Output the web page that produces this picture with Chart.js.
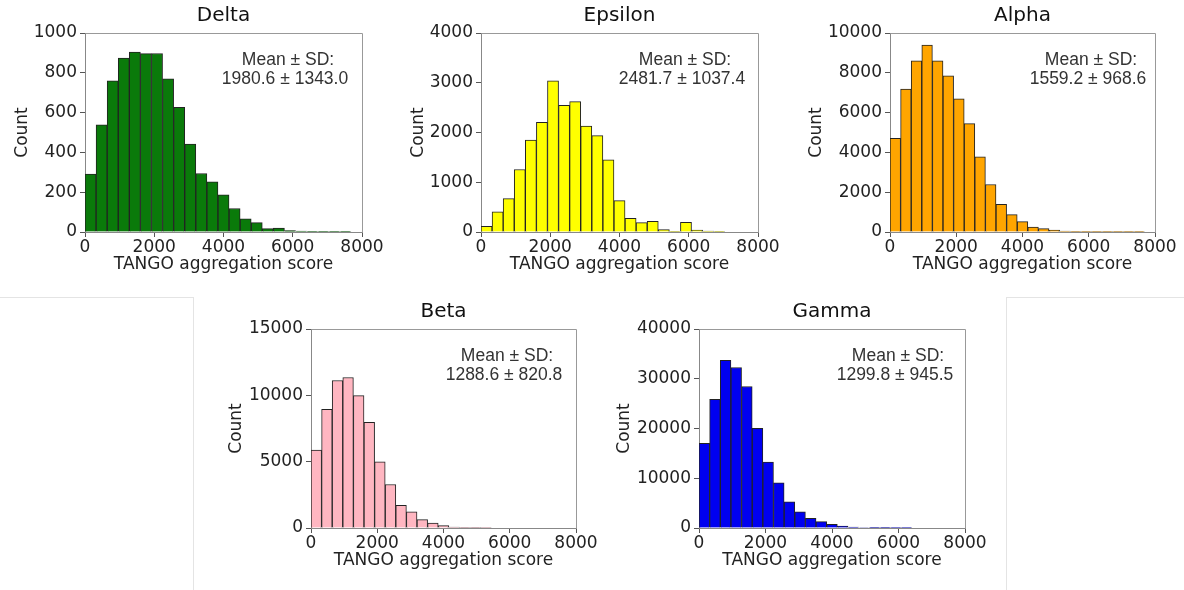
<!DOCTYPE html>
<html>
<head>
<meta charset="utf-8">
<script src="https://cdn.jsdelivr.net/npm/chart.js@4.4.1/dist/chart.umd.min.js"></script>
<style>
  html, body { margin: 0; padding: 0; background: #fff; }
  body { width: 1184px; height: 590px; position: relative; overflow: hidden; }
  canvas { position: absolute; }
  .sep { position: absolute; background: #e4e4e4; }
</style>
</head>
<body>
<!-- thin frame round the bottom row, as in the figure -->
<div class="sep" style="left:0;top:297px;width:194px;height:1px"></div>
<div class="sep" style="left:1006px;top:297px;width:178px;height:1px"></div>
<div class="sep" style="left:193px;top:297px;width:1px;height:293px"></div>
<div class="sep" style="left:1006px;top:297px;width:1px;height:293px"></div>

<canvas id="c0"></canvas>
<canvas id="c1"></canvas>
<canvas id="c2"></canvas>
<canvas id="c3"></canvas>
<canvas id="c4"></canvas>

<script>
// bin centres (bin width 320)
const scoreBins = [160, 480, 800, 1120, 1440, 1760, 2080, 2400, 2720, 3040, 3360, 3680, 4000,
  4320, 4640, 4960, 5280, 5600, 5920, 6240, 6560, 6880, 7200, 7520, 7840];

// counts
const deltaCounts   = [291, 538, 760, 874, 904, 896, 897, 770, 627, 442, 294, 252, 187, 118, 66, 47, 17, 20, 7, 5, 3, 2, 2, 3, 0];
const epsilonCounts = [114, 403, 672, 1257, 1849, 2205, 3039, 2548, 2622, 2131, 1936, 1452, 632, 276, 188, 215, 47, 13, 195, 40, 20, 5, 0, 0, 0];
const alphaCounts   = [4706, 7176, 8605, 9395, 8605, 7849, 6689, 5445, 3782, 2387, 1395, 874, 521, 252, 168, 100, 50, 30, 20, 10, 10, 5, 5, 5, 0];
const betaCounts    = [5873, 8949, 11117, 11344, 9982, 7966, 4991, 3277, 1714, 1210, 630, 378, 176, 76, 30, 10, 5, 0, 0, 0, 0, 0, 0, 0, 0];
const gammaCounts   = [17008, 25882, 33681, 32269, 28437, 20034, 13244, 9076, 5244, 3227, 1950, 1277, 740, 403, 200, 100, 60, 30, 10, 5, 0, 0, 0, 0, 0];

const panelNames = ['Delta', 'Epsilon', 'Alpha', 'Beta', 'Gamma'];
const panelCounts = [deltaCounts, epsilonCounts, alphaCounts, betaCounts, gammaCounts];
const meanSD = ['1980.6 \u00b1 1343.0', '2481.7 \u00b1 1037.4', '1559.2 \u00b1 968.6', '1288.6 \u00b1 820.8', '1299.8 \u00b1 945.5'];
const yMax  = [1000, 4000, 10000, 15000, 40000];
const yStep = [200, 1000, 2000, 5000, 10000];
const xMax = 8000;
const xStep = 2000;
const barColors = ['#0a7a0a', '#ffff00', '#ffa500', '#ffb6c1', '#0000f0'];

// where each plot area sits on the page (px) and the width kept for its y axis
const plotBoxes = [
  { left: 85,  top: 33,  w: 277, yw: 73, dx: -74 },
  { left: 481, top: 33,  w: 277, yw: 73, dx: -73 },
  { left: 890, top: 33,  w: 265, yw: 84, dx: -64 },
  { left: 311, top: 329, w: 265, yw: 85, dx: -69 },
  { left: 699, top: 329, w: 266, yw: 85, dx: -67 }
];
const PLOT_H = 199, TITLE_H = 33, XAXIS_H = 44, PAD_R = 30;

const FONT = "'DejaVu Sans', sans-serif";

// top and right edges of the box round the plot
const frame = {
  id: 'frame',
  afterDraw(chart) {
    const { ctx, chartArea: a } = chart;
    const l = Math.round(a.left) + 0.5, r = Math.round(a.right) + 0.5;
    const t = Math.round(a.top) + 0.5, b = Math.round(a.bottom) + 0.5;
    ctx.save();
    ctx.strokeStyle = '#999';
    ctx.lineWidth = 1;
    ctx.beginPath();
    ctx.moveTo(l, t); ctx.lineTo(r, t); ctx.lineTo(r, b);
    ctx.stroke();
    ctx.restore();
  }
};

// "Mean ± SD" text in the upper right
const meanLabel = {
  id: 'meanLabel',
  afterDatasetsDraw(chart, args, opts) {
    const { ctx, chartArea: a } = chart;
    ctx.save();
    ctx.font = "17.5px 'Liberation Sans', Arial, sans-serif";
    ctx.fillStyle = '#333';
    ctx.textAlign = 'center';
    ctx.textBaseline = 'middle';
    ctx.fillText('Mean \u00b1 SD:', a.right + opts.dx, a.top + 27);
    ctx.fillText(opts.text, a.right + opts.dx - 3, a.top + 46);
    ctx.restore();
  }
};

const makeChart = (i) => {
  const box = plotBoxes[i];
  const cv = document.getElementById('c' + i);
  cv.width = box.yw + box.w + PAD_R;
  cv.height = TITLE_H + PLOT_H + XAXIS_H;
  cv.style.left = (box.left - box.yw) + 'px';
  cv.style.top = (box.top - TITLE_H) + 'px';

  return new Chart(cv, {
    type: 'bar',
    data: {
      datasets: [{
        data: panelCounts[i].map((c, k) => ({ x: scoreBins[k], y: c })),
        backgroundColor: barColors[i],
        borderColor: '#222',
        borderWidth: 1,
        barPercentage: 1,
        categoryPercentage: 1
      }]
    },
    options: {
      responsive: false,
      animation: false,
      layout: { padding: { right: PAD_R } },
      plugins: {
        legend: { display: false },
        tooltip: { enabled: false },
        title: {
          display: true,
          fullSize: false,   // centre over the plot, not the canvas
          text: panelNames[i],
          color: '#111',
          font: { family: FONT, size: 20, weight: 'normal' },
          padding: { top: 4, bottom: 5 }
        },
        meanLabel: { text: meanSD[i], dx: box.dx }
      },
      scales: {
        x: {
          type: 'linear',
          min: 0, max: xMax,
          offset: false,
          grid: { drawOnChartArea: false, drawTicks: true, tickLength: 5, color: '#555', offset: false },
          border: { display: true, color: '#888' },
          ticks: { stepSize: xStep, padding: 0, color: '#222', maxRotation: 0,
                   font: { family: FONT, size: 17 }, callback: v => String(v) },
          title: { display: true, text: 'TANGO aggregation score', color: '#222',
                   font: { family: FONT, size: 17 }, padding: { top: 0, bottom: 1 } },
          afterFit: s => { s.height = XAXIS_H; }
        },
        y: {
          min: 0, max: yMax[i],
          grid: { drawOnChartArea: false, drawTicks: true, tickLength: 5, color: '#555' },
          border: { display: true, color: '#888' },
          ticks: { stepSize: yStep[i], padding: 3, color: '#222',
                   font: { family: FONT, size: 17 }, callback: v => String(v) },
          title: { display: true, text: 'Count', color: '#222',
                   font: { family: FONT, size: 17 }, padding: 0 },
          afterFit: s => { s.width = box.yw; }
        }
      }
    },
    plugins: [frame, meanLabel]
  });
};

panelNames.forEach((n, i) => makeChart(i));
</script>
</body>
</html>
